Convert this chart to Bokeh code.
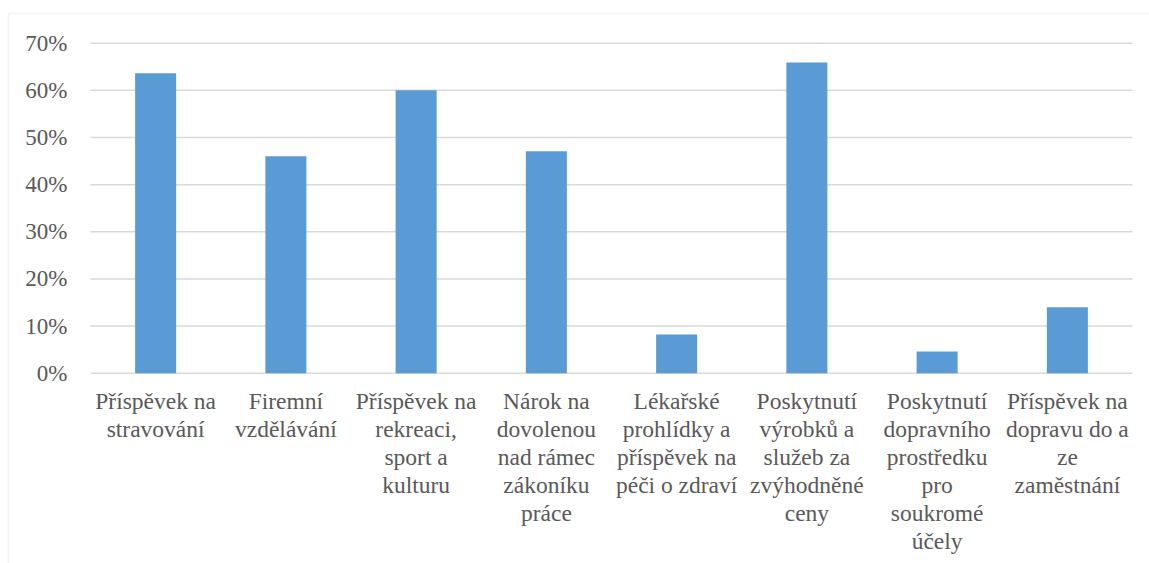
from bokeh.plotting import figure
from bokeh.models import Range1d, BoxAnnotation, ColumnDataSource
from bokeh.embed import file_html
from bokeh.resources import INLINE

# ---- data ----
categories = [
    "Příspěvek na\nstravování",
    "Firemní\nvzdělávání",
    "Příspěvek na\nrekreaci,\nsport a\nkulturu",
    "Nárok na\ndovolenou\nnad rámec\nzákoníku\npráce",
    "Lékařské\nprohlídky a\npříspěvek na\npéči o zdraví",
    "Poskytnutí\nvýrobků a\nslužeb za\nzvýhodněné\nceny",
    "Poskytnutí\ndopravního\nprostředku\npro\nsoukromé\núčely",
    "Příspěvek na\ndopravu do a\nze\nzaměstnání",
]
shares = [63.6, 46.0, 60.0, 47.1, 8.2, 65.9, 4.6, 14.0]
y_ticks = [0, 10, 20, 30, 40, 50, 60, 70]
y_tick_labels = ["0%", "10%", "20%", "30%", "40%", "50%", "60%", "70%"]

# ---- layout (pixels) ----
W, H = 1149, 563
PLOT_LEFT, PLOT_RIGHT = 90.0, 1132.0
ZERO_Y, TOP_Y = 372.7, 42.7
FRAME_X, FRAME_Y = 8.0, 13.0
LABEL_FIRST_BASE = 28.0
LINE_H = 27.9
FONT = "Liberation Serif"
TXT = "#595959"
GRID = "#D9D9D9"
BAR = "#5B9BD5"
FS_Y = "23px"
FS_X = "23.5px"

n = len(categories)
px_per_x = (PLOT_RIGHT - PLOT_LEFT) / n
px_per_y = (ZERO_Y - TOP_Y) / y_ticks[-1]

x0 = -PLOT_LEFT / px_per_x
x1 = (W - PLOT_LEFT) / px_per_x
y1 = ZERO_Y / px_per_y
y0 = -(H - ZERO_Y) / px_per_y

p = figure(width=W, height=H, output_backend="svg", toolbar_location=None,
           x_range=Range1d(x0, x1), y_range=Range1d(y0, y1),
           x_axis_type=None, y_axis_type=None,
           min_border=0, min_border_left=0, min_border_right=0,
           min_border_top=0, min_border_bottom=0)
p.outline_line_color = None
p.grid.visible = False
p.background_fill_color = "white"
p.border_fill_color = "white"

# outer chart border (left and top visible)
p.add_layout(BoxAnnotation(left=x0 + FRAME_X / px_per_x, top=y1 - FRAME_Y / px_per_y,
                           right=x1 + 5, bottom=y0 - 50,
                           fill_alpha=0, line_color=GRID, line_width=1.5))

# gridlines
p.segment(x0=[0] * len(y_ticks), x1=[n] * len(y_ticks), y0=y_ticks, y1=y_ticks,
          line_color=GRID, line_width=1.5)

# bars
centers = [i + 0.5 for i in range(n)]
p.vbar(x=centers, top=shares, bottom=0, width=0.315, fill_color=BAR, line_color=None)

# y tick labels
ysrc = ColumnDataSource(dict(x=[(67 - PLOT_LEFT) / px_per_x] * len(y_ticks), y=y_ticks,
                             t=y_tick_labels, f=[FONT] * len(y_ticks)))
p.text(x="x", y="y", text="t", text_font="f", source=ysrc, text_font_size=FS_Y,
       text_color=TXT, text_align="right", text_baseline="middle")

# category labels (multi-line)
lx, ly, lt = [], [], []
for i, c in enumerate(categories):
    for j, line in enumerate(c.split("\n")):
        lx.append(centers[i])
        ly.append(-(LABEL_FIRST_BASE + j * LINE_H) / px_per_y)
        lt.append(line)
csrc = ColumnDataSource(dict(x=lx, y=ly, t=lt, f=[FONT] * len(lt)))
p.text(x="x", y="y", text="t", text_font="f", source=csrc, text_font_size=FS_X,
       text_color=TXT, text_align="center", text_baseline="alphabetic")

open("out.html", "w").write(file_html(p, INLINE))
